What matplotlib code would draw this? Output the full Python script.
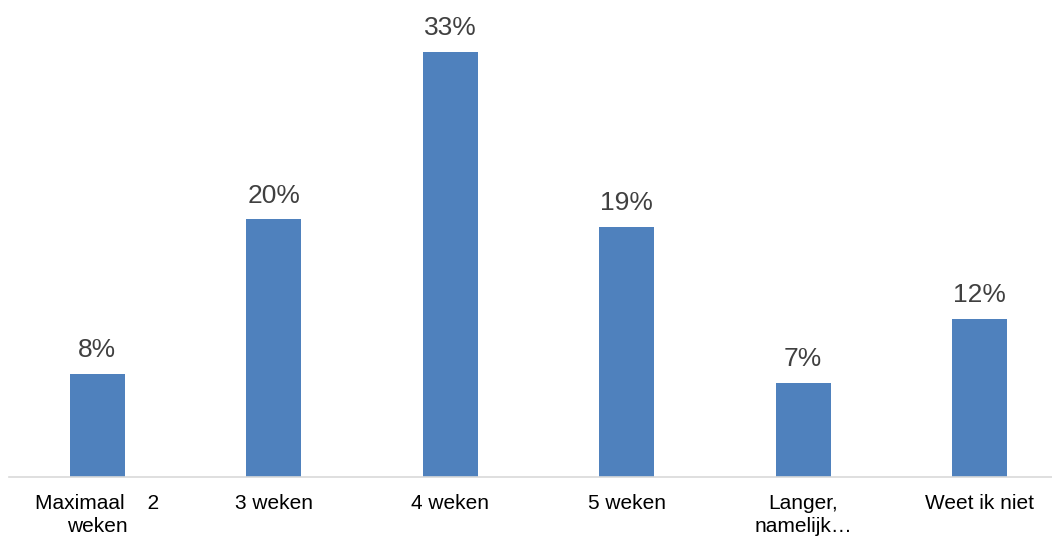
import matplotlib
matplotlib.use("Agg")
import matplotlib.pyplot as plt

plt.rcParams["font.family"] = ["Liberation Sans", "DejaVu Sans"]

categories = ["Maximaal    2\nweken", "3 weken", "4 weken", "5 weken",
              "Langer,\nnamelijk…", "Weet ik niet"]
values = [8.0, 20.0, 33.0, 19.4, 7.3, 12.3]
value_labels = ["8%", "20%", "33%", "19%", "7%", "12%"]

fig = plt.figure(figsize=(10.52, 5.38), dpi=100)
# axes spans from the axis line (y=477px) to the top, left edge ~9px
ax = fig.add_axes([9 / 1052, (538 - 477) / 538, 1 - 9 / 1052, 477 / 538])

x = list(range(len(categories)))
bars = ax.bar(x, values, width=0.31, color="#4F81BD", zorder=2)

for b, lab in zip(bars, value_labels):
    ax.annotate(lab, (b.get_x() + b.get_width() / 2, b.get_height()),
                xytext=(0, 8.5), textcoords="offset points",
                ha="center", va="bottom", fontsize=19, color="#404040")

ax.set_xlim(-0.5, 5.41)
ax.set_ylim(0, 37.03)
ax.set_xticks(x)
ax.set_xticklabels(categories, fontsize=15, color="#000000", linespacing=1.3)
ax.tick_params(axis="x", length=0, pad=12)
ax.set_yticks([])
for s in ["top", "left", "right"]:
    ax.spines[s].set_visible(False)
ax.spines["bottom"].set_color("#d9d9d9")
ax.spines["bottom"].set_linewidth(1.2)

fig.savefig("out.png", dpi=100)
